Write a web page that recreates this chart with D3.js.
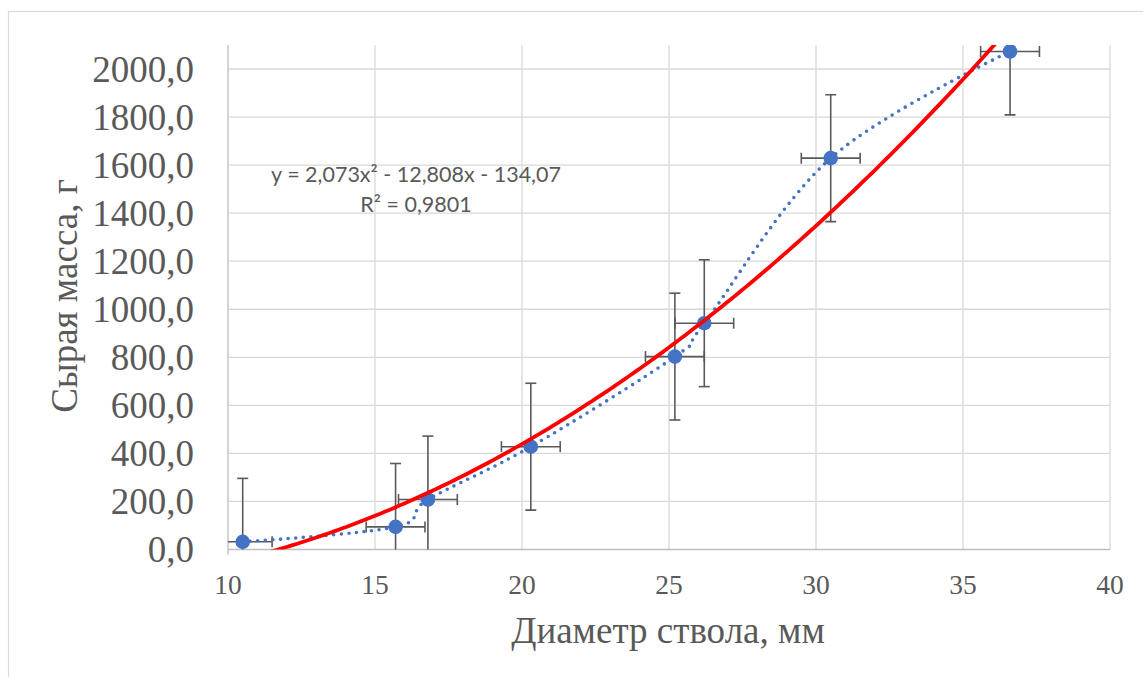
<!DOCTYPE html>
<html>
<head>
<meta charset="utf-8">
<script src="https://cdn.jsdelivr.net/npm/d3@7"></script>
<style>
  body { margin: 0; background: #fff; }
  text { fill: #595959; }
  .axis-label { font-family: "Liberation Serif", "Times New Roman", serif; }
  .eq { font-family: Lato, "Open Sans", sans-serif; }
</style>
</head>
<body>
<div id="chart"></div>
<script>
// data
var diameter = [10.5, 15.7, 16.8, 20.3, 25.2, 26.2, 30.5, 36.6];
var mass = [32, 94, 208, 428, 803, 942, 1629, 2073];
var xErr = [1, 1, 1, 1, 1, 1, 1, 1];
var yErr = [264, 264, 264, 264, 264, 264, 264, 264];
var xTicks = [10, 15, 20, 25, 30, 35, 40];
var yTicks = [0, 200, 400, 600, 800, 1000, 1200, 1400, 1600, 1800, 2000];
var trendCoef = [2.073, -12.808, -134.07]; // a x^2 + b x + c
var eqLines = ["y = 2,073x² - 12,808x - 134,07", "R² = 0,9801"];

var width = 1143, height = 677;
var plot = {left: 228, right: 1110, top: 45, bottom: 549.5};

var svg = d3.select("#chart").append("svg")
  .attr("width", width)
  .attr("height", height);

// outer chart border
svg.append("rect")
  .attr("x", 8.5).attr("y", 11.5)
  .attr("width", 1150).attr("height", 700)
  .attr("fill", "none")
  .attr("stroke", "#d9d9d9")
  .attr("stroke-width", 1.2);

var x = d3.scaleLinear().domain([10, 40]).range([plot.left, plot.right]);
var y = d3.scaleLinear().domain([0, 2100]).range([plot.bottom, plot.top]);

// gridlines
svg.append("g").selectAll("line").data(xTicks.slice(1))
  .enter().append("line")
  .attr("x1", function(d){ return x(d); }).attr("x2", function(d){ return x(d); })
  .attr("y1", plot.top).attr("y2", plot.bottom)
  .attr("stroke", "#d9d9d9").attr("stroke-width", 1.3);

svg.append("g").selectAll("line").data(yTicks.slice(1))
  .enter().append("line")
  .attr("x1", plot.left).attr("x2", plot.right)
  .attr("y1", function(d){ return y(d); }).attr("y2", function(d){ return y(d); })
  .attr("stroke", "#d9d9d9").attr("stroke-width", 1.3);

// axis lines
svg.append("line")
  .attr("x1", plot.left).attr("x2", plot.left)
  .attr("y1", plot.top).attr("y2", plot.bottom + 5)
  .attr("stroke", "#bfbfbf").attr("stroke-width", 1.3);
svg.append("line")
  .attr("x1", plot.left).attr("x2", plot.right)
  .attr("y1", plot.bottom).attr("y2", plot.bottom)
  .attr("stroke", "#bfbfbf").attr("stroke-width", 1.3);

// tick labels
var fmt = function(d){ return d.toFixed(1).replace(".", ","); };
svg.append("g").selectAll("text").data(yTicks)
  .enter().append("text")
  .attr("class", "axis-label")
  .attr("x", 194)
  .attr("y", function(d){ return y(d) + 12.5; })
  .attr("text-anchor", "end")
  .attr("font-size", 37)
  .text(fmt);

svg.append("g").selectAll("text").data(xTicks)
  .enter().append("text")
  .attr("class", "axis-label")
  .attr("x", function(d){ return x(d); })
  .attr("y", 594)
  .attr("text-anchor", "middle")
  .attr("font-size", 27.5)
  .text(function(d){ return d; });

// axis titles
svg.append("text")
  .attr("class", "axis-label")
  .attr("x", 668).attr("y", 643)
  .attr("text-anchor", "middle")
  .attr("font-size", 37)
  .text("Диаметр ствола, мм");

svg.append("text")
  .attr("class", "axis-label")
  .attr("transform", "translate(77,296) rotate(-90)")
  .attr("text-anchor", "middle")
  .attr("font-size", 37)
  .text("Сырая масса, г");

// clip to plot area
svg.append("clipPath").attr("id", "plotclip")
  .append("rect")
  .attr("x", plot.left).attr("y", plot.top)
  .attr("width", plot.right - plot.left).attr("height", plot.bottom - plot.top);

var g = svg.append("g").attr("clip-path", "url(#plotclip)");

var points = diameter.map(function(d, i){
  return {x: d, y: mass[i], ex: xErr[i], ey: yErr[i]};
});

// error bars
var errColor = "#595959", cap = 5.5;
var eb = g.append("g").selectAll("g").data(points).enter().append("g")
  .attr("stroke", errColor).attr("stroke-width", 1.6).attr("fill", "none");
eb.append("line")
  .attr("x1", function(d){ return x(d.x); }).attr("x2", function(d){ return x(d.x); })
  .attr("y1", function(d){ return y(d.y - d.ey); }).attr("y2", function(d){ return y(d.y + d.ey); });
eb.append("line")
  .attr("x1", function(d){ return x(d.x) - cap; }).attr("x2", function(d){ return x(d.x) + cap; })
  .attr("y1", function(d){ return y(d.y - d.ey); }).attr("y2", function(d){ return y(d.y - d.ey); });
eb.append("line")
  .attr("x1", function(d){ return x(d.x) - cap; }).attr("x2", function(d){ return x(d.x) + cap; })
  .attr("y1", function(d){ return y(d.y + d.ey); }).attr("y2", function(d){ return y(d.y + d.ey); });
eb.append("line")
  .attr("x1", function(d){ return x(d.x - d.ex); }).attr("x2", function(d){ return x(d.x + d.ex); })
  .attr("y1", function(d){ return y(d.y); }).attr("y2", function(d){ return y(d.y); });
eb.append("line")
  .attr("x1", function(d){ return x(d.x - d.ex); }).attr("x2", function(d){ return x(d.x - d.ex); })
  .attr("y1", function(d){ return y(d.y) - cap; }).attr("y2", function(d){ return y(d.y) + cap; });
eb.append("line")
  .attr("x1", function(d){ return x(d.x + d.ex); }).attr("x2", function(d){ return x(d.x + d.ex); })
  .attr("y1", function(d){ return y(d.y) - cap; }).attr("y2", function(d){ return y(d.y) + cap; });

// smoothed dotted series line
var smooth = d3.line()
  .x(function(d){ return x(d.x); })
  .y(function(d){ return y(d.y); })
  .curve(d3.curveCardinal.tension(0));
g.append("path")
  .datum(points)
  .attr("d", smooth)
  .attr("fill", "none")
  .attr("stroke", "#4472C4")
  .attr("stroke-width", 3.6)
  .attr("stroke-linecap", "round")
  .attr("stroke-dasharray", "0,7.6");

// markers
g.append("g").selectAll("circle").data(points)
  .enter().append("circle")
  .attr("cx", function(d){ return x(d.x); })
  .attr("cy", function(d){ return y(d.y); })
  .attr("r", 7.3)
  .attr("fill", "#4472C4");

// polynomial trendline
var xMin = d3.min(diameter), xMax = d3.max(diameter);
var trendPts = d3.range(0, 201).map(function(i){
  var xv = xMin + (xMax - xMin) * i / 200;
  return {x: xv, y: trendCoef[0]*xv*xv + trendCoef[1]*xv + trendCoef[2]};
});
g.append("path")
  .datum(trendPts)
  .attr("d", d3.line().x(function(d){ return x(d.x); }).y(function(d){ return y(d.y); }))
  .attr("fill", "none")
  .attr("stroke", "#ff0000")
  .attr("stroke-width", 3.8);

// trendline equation
svg.append("g").selectAll("text").data(eqLines)
  .enter().append("text")
  .attr("class", "eq")
  .attr("x", 416)
  .attr("y", function(d, i){ return 182 + i*30; })
  .attr("text-anchor", "middle")
  .attr("font-size", 21.5)
  .text(function(d){ return d; });
</script>
</body>
</html>
